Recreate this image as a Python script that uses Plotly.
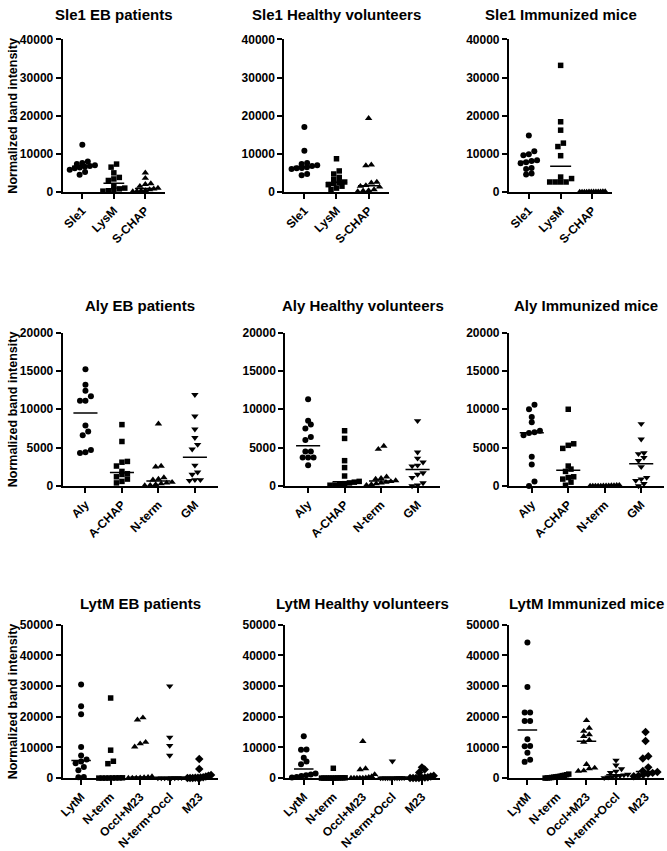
import numpy as np
import plotly.graph_objects as go

W, H = 667, 851

# ---------------- data ----------------
sle1_groups = ["Sle1", "LysM", "S-CHAP"]
aly_groups = ["Aly", "A-CHAP", "N-term", "GM"]
lytm_groups = ["LytM", "N-term", "Occl+M23", "N-term+Occl", "M23"]

sle1_eb_sle1 = [12400, 8000, 7600, 7300, 7000, 6800, 6600, 6400, 6200, 5800, 5200, 4500]
sle1_eb_lysm = [7300, 6500, 5000, 3800, 3400, 3000, 1500, 1000, 800, 500, 300, 200]
sle1_eb_schap = [5000, 3600, 2200, 2000, 1500, 1000, 800, 600, 400, 300, 200, 100]

sle1_hv_sle1 = [17000, 10800, 7600, 7300, 7000, 6800, 6500, 6300, 6200, 6000, 4700, 4400]
sle1_hv_lysm = [8700, 5500, 4700, 3800, 3200, 2600, 2400, 2200, 1900, 1500, 1000, 600]
sle1_hv_schap = [19300, 7100, 6900, 2600, 2400, 1700, 1500, 1300, 600, 400, 300, 100]

sle1_im_sle1 = [14800, 10700, 9900, 9600, 8300, 8100, 7800, 7500, 6300, 6000, 4800, 4600]
sle1_im_lysm = [33200, 18400, 16200, 12800, 11900, 9500, 3900, 3500, 2600, 2600, 2600, 2600]
sle1_im_schap = [100, 80, 60, 50, 40, 30, 20, 10, 0, 0, 0, 0]

aly_eb_aly = [15200, 13200, 12400, 11700, 11100, 11100, 7900, 7100, 6600, 4700, 4400, 4300]
aly_eb_achap = [8000, 5800, 3200, 3100, 2600, 1900, 1600, 1500, 1200, 900, 600, 400]
aly_eb_nterm = [8100, 2600, 2500, 1100, 900, 800, 500, 400, 300, 200, 100, 50]
aly_eb_gm = [11900, 9100, 7400, 6300, 5400, 4800, 2700, 1800, 1500, 800, 800, 700]

aly_hv_aly = [11300, 8500, 8000, 7500, 6400, 6000, 4500, 4500, 3700, 3700, 3700, 2700]
aly_hv_achap = [7200, 6200, 3300, 2400, 1300, 600, 500, 400, 300, 200, 100, 100]
aly_hv_nterm = [5200, 4800, 1200, 1000, 900, 700, 600, 500, 400, 300, 200, 100]
aly_hv_gm = [8500, 4400, 3600, 3100, 2700, 2600, 1700, 1500, 1100, 400, 100, 0]

aly_im_aly = [10600, 10000, 9000, 8300, 7200, 7000, 6900, 6600, 3800, 2800, 600, 0]
aly_im_achap = [10000, 5500, 5300, 4900, 2600, 2200, 1900, 1200, 1100, 900, 500, 100]
aly_im_nterm = [100, 80, 60, 50, 40, 30, 20, 10, 0, 0, 0, 0]
aly_im_gm = [8100, 6100, 4300, 4200, 3700, 3300, 2500, 1100, 900, 700, 300, 0]

lytm_eb_lytm = [30500, 23400, 20800, 10100, 7400, 6100, 5400, 4800, 3600, 2600, 400, 300]
lytm_eb_nterm = [26100, 9100, 5500, 4700, 100, 80, 60, 40, 20, 0, 0, 0]
lytm_eb_occlm23 = [19700, 19000, 11700, 11200, 10200, 500, 300, 200, 100, 0, 0, 0]
lytm_eb_ntermoccl = [30000, 13300, 10600, 7400, 100, 80, 60, 40, 20, 0, 0, 0]
lytm_eb_m23 = [6200, 3000, 1000, 800, 500, 300, 200, 100, 100, 0, 0, 0]

lytm_hv_lytm = [13600, 9300, 9200, 6600, 5400, 4500, 1500, 1200, 900, 700, 400, 200]
lytm_hv_nterm = [3200, 100, 80, 60, 40, 20, 0, 0, 0, 0, 0, 0]
lytm_hv_occlm23 = [12000, 3100, 2800, 1200, 500, 300, 100, 50, 0, 0, 0, 0]
lytm_hv_ntermoccl = [5500, 100, 80, 60, 40, 20, 0, 0, 0, 0, 0, 0]
lytm_hv_m23 = [3500, 2800, 1800, 800, 500, 300, 200, 100, 0, 0, 0, 0]

lytm_im_lytm = [44200, 29700, 21400, 21400, 18600, 18600, 12700, 10500, 10400, 8300, 6000, 5300]
lytm_im_nterm = [1300, 1100, 900, 800, 600, 500, 400, 300, 200, 100, 50, 0]
lytm_im_occlm23 = [18800, 16300, 15300, 14200, 13600, 12400, 11700, 4500, 3300, 3100, 2400, 2300]
lytm_im_ntermoccl = [5800, 4200, 3000, 2200, 1800, 1200, 1000, 800, 600, 400, 300, 100]
lytm_im_m23 = [15000, 12100, 7100, 6400, 3500, 2300, 2000, 1700, 1400, 1100, 800, 600]

titles = ["Sle1 EB patients", "Sle1 Healthy volunteers", "Sle1 Immunized mice",
          "Aly EB patients", "Aly Healthy volunteers", "Aly Immunized mice",
          "LytM EB patients", "LytM Healthy volunteers", "LytM Immunized mice"]

y_label = "Normalized band intensity"

# ---------------- layout geometry (pixels) ----------------
row_y = [(33, 188, 40000, 10000), (331, 487, 20000, 5000), (628, 784, 50000, 10000)]
row_title_y = [8, 304, 606]
col_x = {0: [(59, 162), (282, 387), (508, 612)],
         1: [(59, 215), (283, 439), (508, 664)],
         2: [(59, 215), (283, 439), (508, 664)]}

panel_data = [
    (sle1_groups, [sle1_eb_sle1, sle1_eb_lysm, sle1_eb_schap]),
    (sle1_groups, [sle1_hv_sle1, sle1_hv_lysm, sle1_hv_schap]),
    (sle1_groups, [sle1_im_sle1, sle1_im_lysm, sle1_im_schap]),
    (aly_groups, [aly_eb_aly, aly_eb_achap, aly_eb_nterm, aly_eb_gm]),
    (aly_groups, [aly_hv_aly, aly_hv_achap, aly_hv_nterm, aly_hv_gm]),
    (aly_groups, [aly_im_aly, aly_im_achap, aly_im_nterm, aly_im_gm]),
    (lytm_groups, [lytm_eb_lytm, lytm_eb_nterm, lytm_eb_occlm23, lytm_eb_ntermoccl, lytm_eb_m23]),
    (lytm_groups, [lytm_hv_lytm, lytm_hv_nterm, lytm_hv_occlm23, lytm_hv_ntermoccl, lytm_hv_m23]),
    (lytm_groups, [lytm_im_lytm, lytm_im_nterm, lytm_im_occlm23, lytm_im_ntermoccl, lytm_im_m23]),
]

symbols = ["circle", "square", "triangle-up", "triangle-down", "diamond"]
sizes = [6, 5.5, 6.5, 6.5, 6.5]
FONT = "Liberation Sans, Arial, sans-serif"


def swarm(vals, ymax, h_px, sp_px, d=5.5, maxw=0.8):
    vals = np.asarray(vals, float)
    ypx = vals / ymax * h_px
    order = np.argsort(ypx, kind="stable")
    offs = np.zeros(len(vals))
    rows, cur = [], [order[0]]
    for idx in order[1:]:
        if ypx[idx] - ypx[cur[0]] < d * 0.9:
            cur.append(idx)
        else:
            rows.append(cur)
            cur = [idx]
    rows.append(cur)
    for r in rows:
        n = len(r)
        if n == 1:
            continue
        step = min(d, maxw * sp_px / (n - 1))
        for k, idx in enumerate(r):
            offs[idx] = (k - (n - 1) / 2) * step / sp_px
    return offs


fig = go.Figure()
annotations = []
layout = {}

for p in range(9):
    row, col = divmod(p, 3)
    groups, series = panel_data[p]
    y0, y1, ymax, dtick = row_y[row]
    x0, x1 = col_x[row][col]
    n = len(groups)
    pad = 0.625
    xr = [-pad, n - 1 + pad]
    sp_px = (x1 - x0) / (xr[1] - xr[0])
    h_px = y1 - y0
    sfx = "" if p == 0 else str(p + 1)
    xa, ya = "x" + sfx, "y" + sfx

    for g, vals in enumerate(series):
        offs = swarm(vals, ymax, h_px, sp_px)
        fig.add_trace(go.Scatter(
            x=g + offs, y=vals, mode="markers", xaxis=xa, yaxis=ya,
            marker=dict(symbol=symbols[g], size=sizes[g], color="black", line=dict(width=0)),
            cliponaxis=False, showlegend=False, hoverinfo="y"))
        med = float(np.median(vals))
        fig.add_trace(go.Scatter(
            x=[g - 0.33, g + 0.33], y=[med, med], mode="lines", xaxis=xa, yaxis=ya,
            line=dict(color="black", width=1.5), cliponaxis=False,
            showlegend=False, hoverinfo="skip"))

    layout["xaxis" + sfx] = dict(
        domain=[x0 / W, x1 / W], range=xr, anchor=ya,
        tickvals=list(range(n)), ticktext=groups, tickangle=-45,
        showline=True, linecolor="black", linewidth=2,
        ticks="outside", ticklen=5, tickwidth=1.5, tickcolor="black",
        showgrid=False, zeroline=False, fixedrange=True,
        tickfont=dict(family=FONT, size=12, color="black", weight="bold"))
    layout["yaxis" + sfx] = dict(
        domain=[1 - y1 / H, 1 - y0 / H], range=[0, ymax], anchor=xa,
        dtick=dtick, tick0=0, tickformat="d",
        showline=True, linecolor="black", linewidth=2,
        ticks="outside", ticklen=5, tickwidth=1.5, tickcolor="black",
        showgrid=False, zeroline=False, fixedrange=True,
        tickfont=dict(family=FONT, size=12, color="black", weight="bold"))

    annotations.append(dict(
        text="<b>" + titles[p] + "</b>", xref="paper", yref="paper",
        x=(x0 + x1) / 2 / W, y=1 - row_title_y[row] / H,
        xanchor="center", yanchor="middle", showarrow=False,
        font=dict(family=FONT, size=15, color="black")))
    if col == 0:
        annotations.append(dict(
            text="<b>" + y_label + "</b>", xref="paper", yref="paper",
            x=9 / W, y=1 - (y0 + y1) / 2 / H, textangle=-90,
            xanchor="center", yanchor="middle", showarrow=False,
            font=dict(family=FONT, size=12.5, color="black")))

fig.update_layout(
    width=W, height=H, margin=dict(l=0, r=0, t=0, b=0),
    paper_bgcolor="white", plot_bgcolor="white",
    showlegend=False, annotations=annotations, **layout)

fig.write_html(
    "out.html",
    config={"displayModeBar": False},
    post_script="document.documentElement.style.margin='0';document.body.style.margin='0';document.body.style.overflow='hidden';",
)
